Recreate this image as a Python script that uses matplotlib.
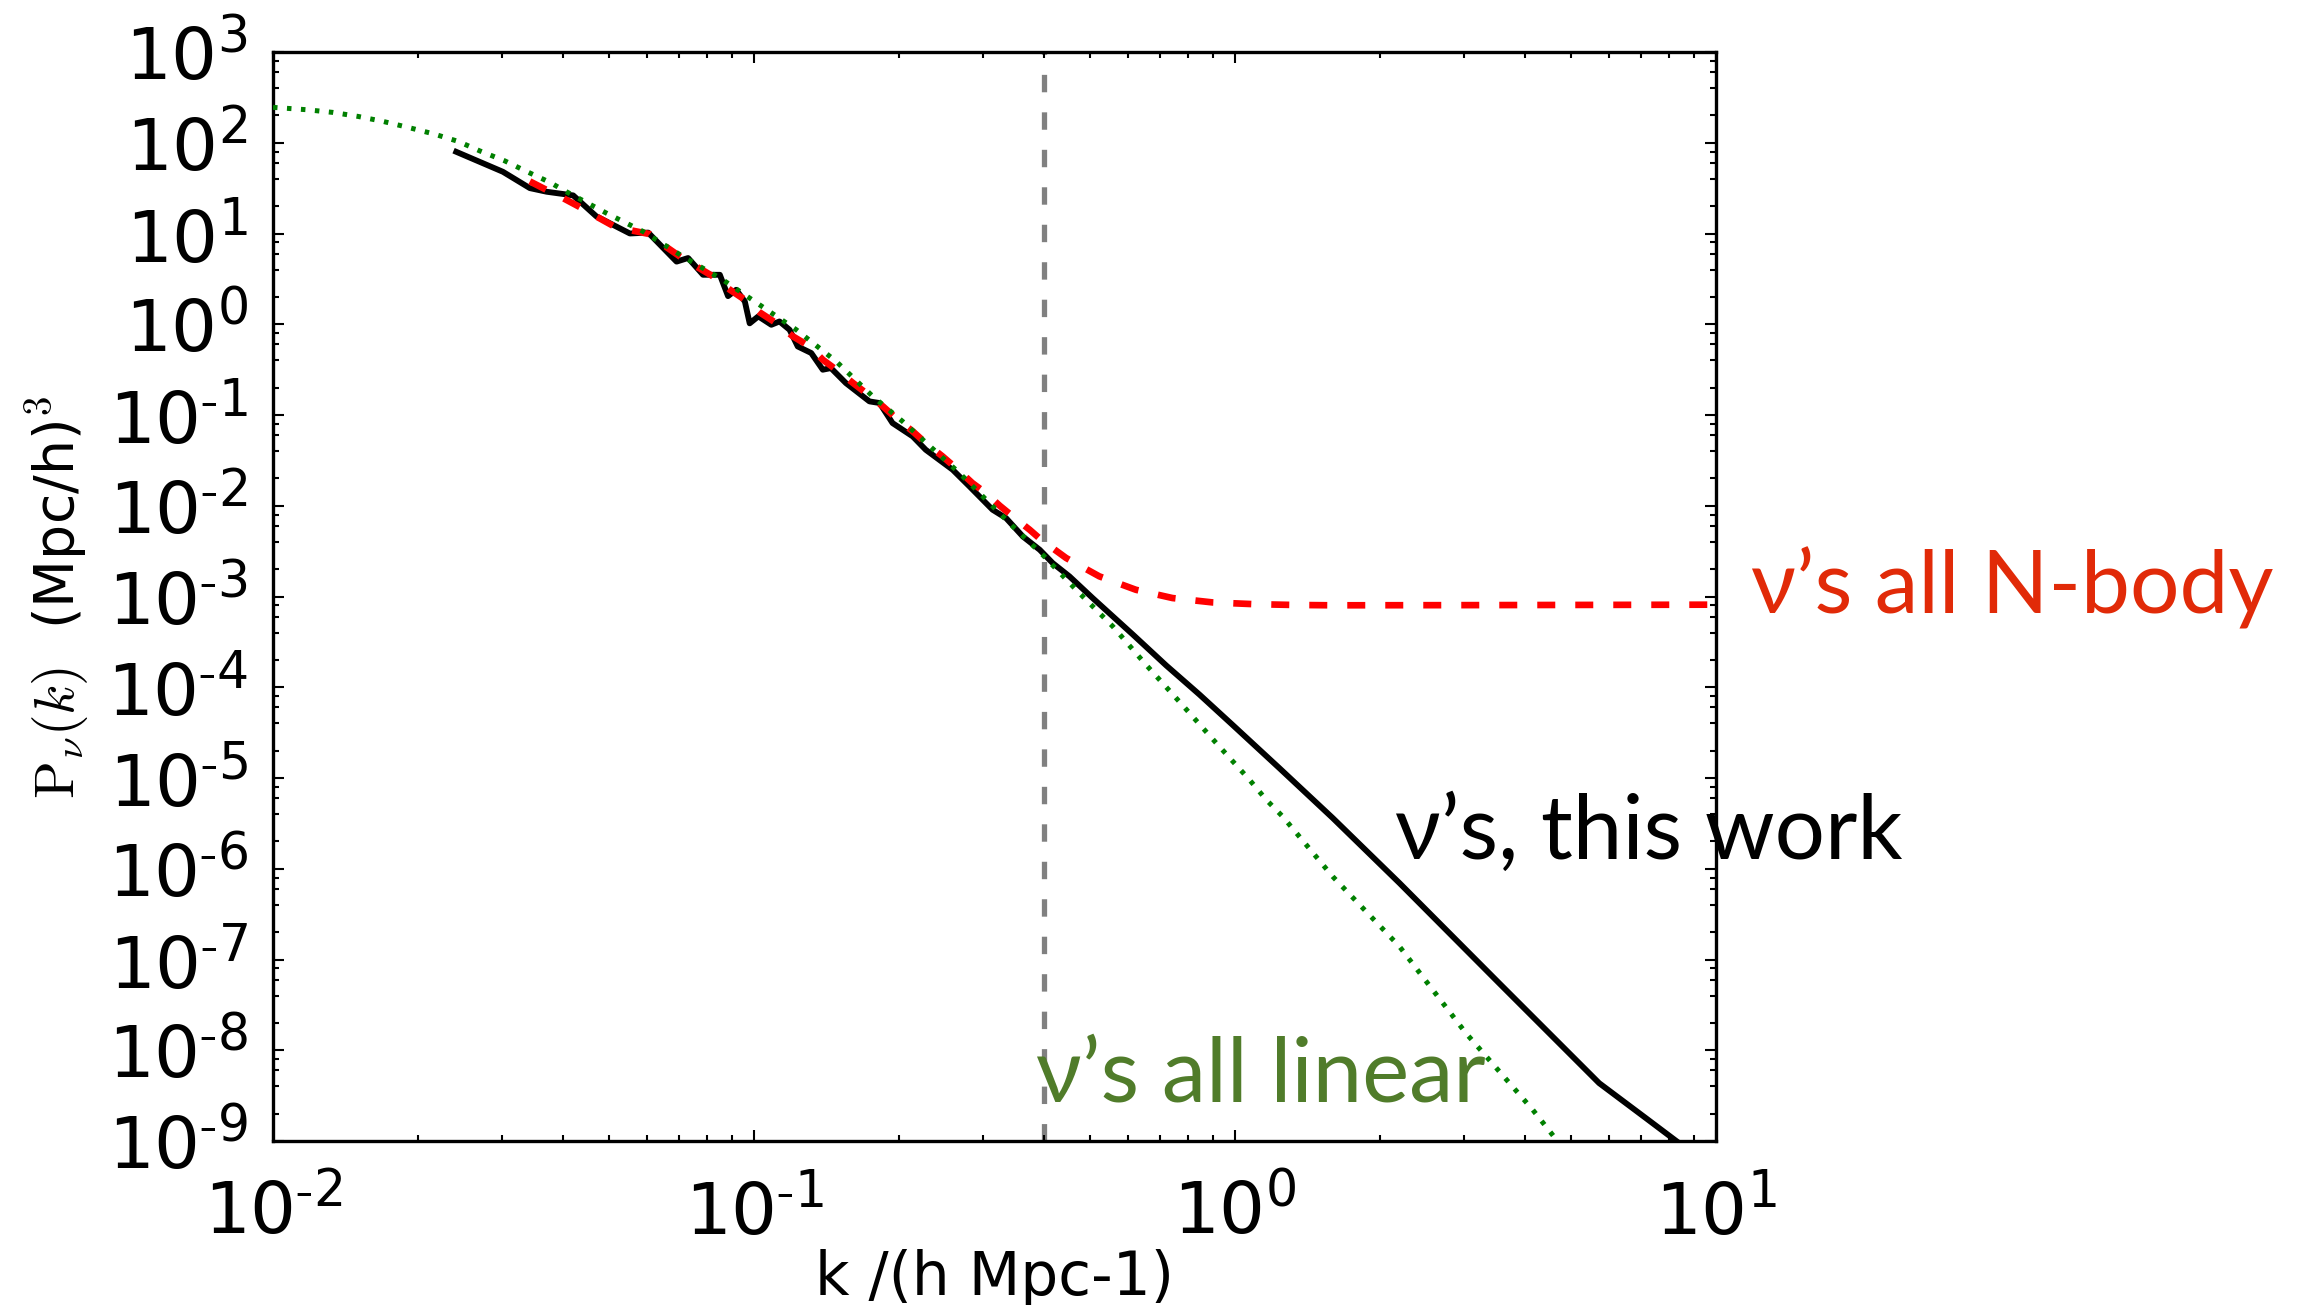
import numpy as np
import matplotlib
matplotlib.use("Agg")
import matplotlib.pyplot as plt
from matplotlib.ticker import LogLocator, FuncFormatter, NullFormatter

# values, as log10(k) and log10(P)
logk_sim = [-1.619, -1.522, -1.466, -1.431, -1.376, -1.328, -1.258, -1.220, -1.161, -1.137,
            -1.106, -1.071, -1.054, -1.037, -1.019, -1.009, -0.991, -0.964, -0.947, -0.926,
            -0.909, -0.881, -0.857, -0.840, -0.809, -0.760, -0.739, -0.712, -0.670, -0.643,
            -0.587, -0.552, -0.504, -0.476, -0.441, -0.406, -0.379, -0.344, -0.296, -0.212,
            -0.143, -0.102, -0.074, -0.005, 0.092, 0.203, 0.342, 0.549, 0.757, 0.854, 0.930]
logp_sim = [1.90, 1.68, 1.50, 1.46, 1.42, 1.19, 1.00, 1.01, 0.69, 0.73,
            0.545, 0.545, 0.31, 0.38, 0.25, 0.01, 0.087, -0.006, 0.031, -0.061,
            -0.245, -0.317, -0.501, -0.483, -0.648, -0.850, -0.868, -1.089, -1.236, -1.383,
            -1.603, -1.787, -2.044, -2.136, -2.339, -2.485, -2.632, -2.779, -3.017, -3.421,
            -3.760, -3.950, -4.080, -4.415, -4.890, -5.440, -6.158, -7.260, -8.362, -8.747, -9.050]

logk_nbody = [-1.466, -1.432, -1.397, -1.362, -1.328, -1.293, -1.255, -1.217, -1.189, -1.154,
              -1.120, -1.085, -1.050, -1.019, -0.988, -0.954, -0.919, -0.884, -0.857, -0.829,
              -0.794, -0.767, -0.732, -0.705, -0.670, -0.643, -0.608, -0.580, -0.546, -0.518,
              -0.489, -0.462, -0.427, -0.403, -0.351, -0.282, -0.206, -0.130, -0.047, 0.037,
              0.120, 0.203, 0.500, 1.000]
logp_nbody = [1.574, 1.482, 1.390, 1.291, 1.188, 1.085, 1.034, 0.994, 0.876, 0.747,
              0.637, 0.527, 0.380, 0.270, 0.130, 0.013, -0.134, -0.245, -0.391, -0.501,
              -0.648, -0.758, -0.905, -1.033, -1.180, -1.309, -1.456, -1.584, -1.750, -1.860,
              -2.000, -2.117, -2.264, -2.375, -2.576, -2.778, -2.926, -3.017, -3.065, -3.084,
              -3.093, -3.097, -3.095, -3.090]

logk_lin = [-2.000, -1.930, -1.875, -1.823, -1.771, -1.719, -1.667, -1.615, -1.570, -1.518,
            -1.473, -1.424, -1.397, -1.307, -1.231, -1.148, -1.065, -0.912, -0.829, -0.753,
            -0.691, -0.573, -0.462, -0.400, -0.327, -0.254, -0.185, -0.116, -0.039, 0.030,
            0.065, 0.099, 0.203, 0.342, 0.480, 0.619, 0.700]
logp_lin = [2.390, 2.364, 2.334, 2.290, 2.235, 2.169, 2.099, 2.015, 1.910, 1.800,
            1.684, 1.563, 1.480, 1.225, 1.023, 0.747, 0.490, -0.061, -0.410, -0.795,
            -1.071, -1.639, -2.227, -2.540, -2.944, -3.330, -3.752, -4.157, -4.615, -5.019,
            -5.240, -5.424, -6.085, -6.857, -7.811, -8.656, -9.200]

k_cut = 0.4

plt.rcParams['mathtext.fontset'] = 'cm'

fig = plt.figure(figsize=(23.04, 13.05), dpi=100)
ax = fig.add_axes([273/2304, 164/1305, 1443/2304, 1089/1305])

ax.axvline(k_cut, color='gray', lw=3.8, dashes=(3.3, 3.8), zorder=1)
ax.plot(10**np.array(logk_sim), 10**np.array(logp_sim), color='black', lw=4.2, zorder=2)
ax.plot(10**np.array(logk_nbody), 10**np.array(logp_nbody), color='red', lw=4.8,
        dashes=(2.7, 3.0), zorder=3)
ax.plot(10**np.array(logk_lin), 10**np.array(logp_lin), color='green', lw=3.6,
        dashes=(0.9, 1.9), zorder=4)

ax.set_xscale('log')
ax.set_yscale('log')
ax.set_xlim(1e-2, 1e1)
ax.set_ylim(1e-9, 1e3)

def fmt(v, pos):
    e = int(round(np.log10(v)))
    s = str(e).replace('-', r'\text{-}')
    return r'$\mathregular{10^{%s}}$' % s

ax.xaxis.set_major_locator(LogLocator(base=10, numticks=20))
ax.xaxis.set_minor_locator(LogLocator(base=10, subs=np.arange(2, 10), numticks=20))
ax.yaxis.set_major_locator(LogLocator(base=10, numticks=30))
ax.yaxis.set_minor_locator(LogLocator(base=10, subs=[2, 4, 6, 8], numticks=30))
ax.xaxis.set_major_formatter(FuncFormatter(fmt))
ax.yaxis.set_major_formatter(FuncFormatter(fmt))
ax.xaxis.set_minor_formatter(NullFormatter())
ax.yaxis.set_minor_formatter(NullFormatter())

ax.tick_params(which='both', direction='in', top=True, right=True, width=1.5)
ax.tick_params(which='major', length=8, labelsize=52)
ax.tick_params(which='minor', length=4)
ax.tick_params(axis='y', pad=18)
ax.tick_params(axis='x', pad=26)
for sp in ax.spines.values():
    sp.set_linewidth(2.4)

ax.set_xlabel('k /(h Mpc-1)', fontsize=43, labelpad=0)
fig.text(58/2304, 1 - 597/1305, r'$\mathrm{P}_\nu(k)$  (Mpc/h)$^3$', fontsize=40,
         rotation=90, ha='center', va='center')

fam = ['Lato', 'DejaVu Sans']
fig.text(1751/2304, 1 - 614/1305, 'ν’s all N-body', color='#e12a08', fontsize=63,
         family=fam, ha='left', va='baseline')
fig.text(1395/2304, 1 - 859/1305, 'ν’s, this work', color='black', fontsize=64,
         family=fam, ha='left', va='baseline')
fig.text(1036/2304, 1 - 1101/1305, 'ν’s all linear', color='#507c2a', fontsize=64,
         family=fam, ha='left', va='baseline')

fig.savefig('out.png', dpi=100)
